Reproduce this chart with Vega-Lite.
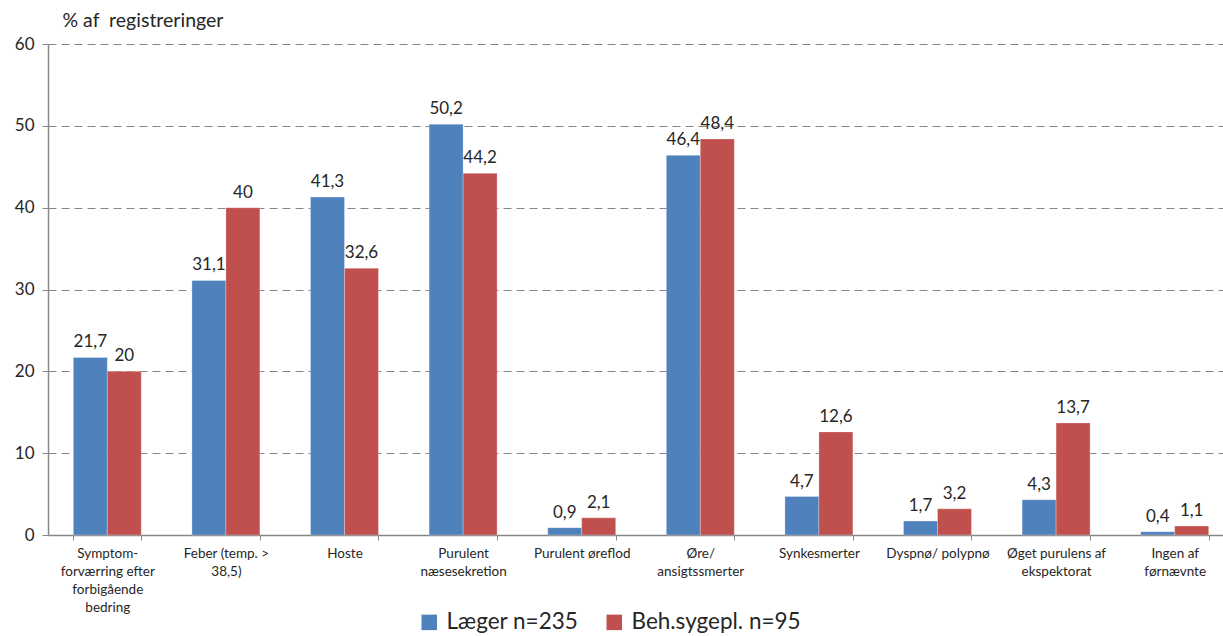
{
  "$schema": "https://vega.github.io/schema/vega-lite/v6.json",
  "width": 1175,
  "height": 491,
  "autosize": {"type": "none"},
  "padding": {"left": 48, "top": 44, "right": 0, "bottom": 101},
  "background": "white",
  "config": {
    "view": {"stroke": null},
    "font": "Lato",
    "locale": {"number": {"decimal": ",", "thousands": ".", "grouping": [3], "currency": ["", " kr."]}}
  },
  "data": {
    "values": [
      {"kategori": "Symptom-|forværring efter|forbigående|bedring", "gruppe": "Læger n=235", "pct": 21.7},
      {"kategori": "Symptom-|forværring efter|forbigående|bedring", "gruppe": "Beh.sygepl. n=95", "pct": 20},
      {"kategori": "Feber (temp. >|38,5)", "gruppe": "Læger n=235", "pct": 31.1},
      {"kategori": "Feber (temp. >|38,5)", "gruppe": "Beh.sygepl. n=95", "pct": 40},
      {"kategori": "Hoste", "gruppe": "Læger n=235", "pct": 41.3},
      {"kategori": "Hoste", "gruppe": "Beh.sygepl. n=95", "pct": 32.6},
      {"kategori": "Purulent|næsesekretion", "gruppe": "Læger n=235", "pct": 50.2},
      {"kategori": "Purulent|næsesekretion", "gruppe": "Beh.sygepl. n=95", "pct": 44.2},
      {"kategori": "Purulent øreflod", "gruppe": "Læger n=235", "pct": 0.9},
      {"kategori": "Purulent øreflod", "gruppe": "Beh.sygepl. n=95", "pct": 2.1},
      {"kategori": "Øre/|ansigtssmerter", "gruppe": "Læger n=235", "pct": 46.4},
      {"kategori": "Øre/|ansigtssmerter", "gruppe": "Beh.sygepl. n=95", "pct": 48.4},
      {"kategori": "Synkesmerter", "gruppe": "Læger n=235", "pct": 4.7},
      {"kategori": "Synkesmerter", "gruppe": "Beh.sygepl. n=95", "pct": 12.6},
      {"kategori": "Dyspnø/ polypnø", "gruppe": "Læger n=235", "pct": 1.7},
      {"kategori": "Dyspnø/ polypnø", "gruppe": "Beh.sygepl. n=95", "pct": 3.2},
      {"kategori": "Øget purulens af|ekspektorat", "gruppe": "Læger n=235", "pct": 4.3},
      {"kategori": "Øget purulens af|ekspektorat", "gruppe": "Beh.sygepl. n=95", "pct": 13.7},
      {"kategori": "Ingen af|førnævnte", "gruppe": "Læger n=235", "pct": 0.4},
      {"kategori": "Ingen af|førnævnte", "gruppe": "Beh.sygepl. n=95", "pct": 1.1}
    ]
  },
  "encoding": {
    "x": {
      "field": "kategori",
      "type": "nominal",
      "sort": null,
      "scale": {"range": [0, 1186], "paddingInner": 0.427, "paddingOuter": 0.2135},
      "axis": {
        "title": null,
        "labelAngle": 0,
        "labelExpr": "split(datum.label, '|')",
        "labelFontSize": 13.5,
        "labelLineHeight": 18,
        "labelColor": "#262626",
        "labelPadding": 6,
        "labelBaseline": "top",
        "tickBand": "extent",
        "tickColor": "#868686",
        "tickSize": 5,
        "domainColor": "#868686",
        "domainWidth": 1.5,
        "grid": false
      }
    },
    "xOffset": {"field": "gruppe", "type": "nominal", "sort": ["Læger n=235", "Beh.sygepl. n=95"], "scale": {"paddingInner": 0, "paddingOuter": 0}},
    "y": {
      "field": "pct",
      "type": "quantitative",
      "scale": {"domain": [0, 60], "nice": false},
      "axis": {
        "values": [0, 10, 20, 30, 40, 50, 60],
        "title": "% af\u00a0 registreringer",
        "titleAngle": 0,
        "titleAlign": "left",
        "titleBaseline": "alphabetic",
        "titleX": 14,
        "titleY": -18,
        "titleFontSize": 19.5,
        "titleFontWeight": "normal",
        "titleColor": "#262626",
        "labelFontSize": 17,
        "labelColor": "#262626",
        "labelPadding": 8,
        "tickColor": "#868686",
        "tickSize": 6,
        "domainColor": "#868686",
        "domainWidth": 1.5,
        "grid": true,
        "gridColor": "#868686",
        "gridDash": [8, 5],
        "gridWidth": 1.2
      }
    }
  },
  "layer": [
    {
      "mark": {"type": "bar", "stroke": "#ffffff", "strokeOpacity": 0.35, "strokeWidth": 0.8},
      "encoding": {
        "color": {
          "field": "gruppe",
          "type": "nominal",
          "sort": ["Læger n=235", "Beh.sygepl. n=95"],
          "scale": {"domain": ["Læger n=235", "Beh.sygepl. n=95"], "range": ["#4F81BD", "#C0504D"]},
          "legend": {
            "title": null,
            "orient": "none",
            "direction": "horizontal",
            "legendX": 370,
            "legendY": 567,
            "symbolType": "square",
            "symbolSize": 240,
            "symbolStrokeWidth": 0,
            "labelFontSize": 22.5,
            "labelLimit": 400,
            "labelColor": "#262626",
            "labelOffset": 6,
            "columnPadding": 24
          }
        }
      }
    },
    {
      "mark": {"type": "text", "baseline": "bottom", "dy": -6, "fontSize": 17, "color": "#262626"},
      "encoding": {
        "text": {"field": "pct", "type": "quantitative", "format": ".1~f"}
      }
    }
  ]
}
